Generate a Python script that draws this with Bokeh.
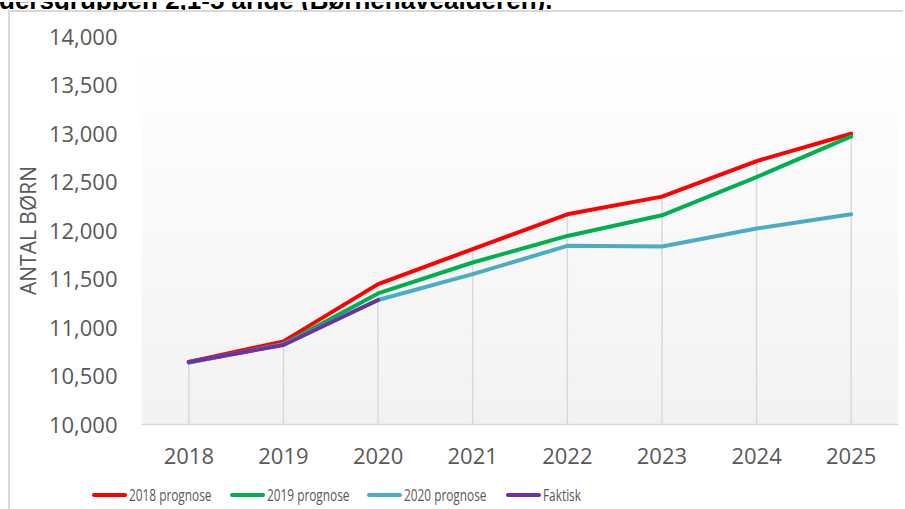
from bokeh.plotting import figure
from bokeh.layouts import column
from bokeh.models import (Range1d, FactorRange, FixedTicker, NumeralTickFormatter,
                          BoxAnnotation, Div)
from bokeh.embed import file_html
from bokeh.resources import INLINE

# ---- data ----
years = ["2018", "2019", "2020", "2021", "2022", "2023", "2024", "2025"]
prog2018 = [10645, 10857, 11447, 11808, 12167, 12349, 12716, 12997]
prog2019 = [10640, 10830, 11351, 11670, 11944, 12157, 12551, 12970]
prog2020 = [10640, 10825, 11283, 11550, 11842, 11835, 12020, 12167]
faktisk_years = ["2018", "2019", "2020"]
faktisk = [10645, 10820, 11283]
y_ticks = [10000, 10500, 11000, 11500, 12000, 12500, 13000, 13500, 14000]
series_names = ["2018 prognose", "2019 prognose", "2020 prognose", "Faktisk"]
title_text = "dersgruppen 2,1-5 årige (Børnehavealderen)."
y_label = "ANTAL BØRN"

colors = ["#FF0000", "#00B050", "#4BACC6", "#7030A0"]
GRAY = "#595959"
BORDER = "#D9D9D9"

# ---- cut-off title line (from the page above the chart) ----
title_div = Div(
    text=('<div style="position:relative;width:905px;height:10px;overflow:hidden;">'
          '<div style="position:absolute;left:-1px;top:-15px;white-space:nowrap;'
          "font-family:'Liberation Sans',Arial,sans-serif;font-weight:bold;"
          'font-size:26px;line-height:26px;color:#000;">' + title_text + '</div></div>'),
    width=905, height=10, margin=0)

# ---- main chart ----
p = figure(x_range=FactorRange(*years, range_padding=0),
           y_range=Range1d(y_ticks[0], y_ticks[-1]),
           width=893, height=470, output_backend="svg", toolbar_location=None,
           min_border_left=131, min_border_right=5, min_border_top=24,
           min_border_bottom=58, margin=0)
p.outline_line_color = None
p.background_fill_color = "white"
p.border_fill_color = "white"
p.xgrid.grid_line_color = None
p.ygrid.grid_line_color = None

# gradient background (white -> light gray)
n_bands = 40
y0, y1 = y_ticks[0], y_ticks[-1]
step = (y1 - y0) / n_bands
for i in range(n_bands):
    t = (i + 0.5) / n_bands  # 0 at bottom, 1 at top
    c = int(round(242 + (255 - 242) * t))
    col = "#%02x%02x%02x" % (c, c, c)
    p.add_layout(BoxAnnotation(bottom=y0 + i * step, top=y0 + (i + 1) * step + 0.5,
                               fill_color=col, fill_alpha=1, line_color=None,
                               level="underlay"))

# drop lines
tops = [max(a, b, c) for a, b, c in zip(prog2018, prog2019, prog2020)]
p.segment(x0=years, y0=[y0] * len(years), x1=years, y1=tops,
          line_color=BORDER, line_width=1.5)

for ys, xs, col in [(prog2018, years, colors[0]), (prog2019, years, colors[1]),
                    (prog2020, years, colors[2]), (faktisk, faktisk_years, colors[3])]:
    p.line(xs, ys, line_color=col, line_width=4, line_cap="round", line_join="round")

# axes
p.yaxis.ticker = FixedTicker(ticks=y_ticks)
p.yaxis.formatter = NumeralTickFormatter(format="0,0")
p.yaxis.axis_line_color = None
p.yaxis.major_tick_line_color = None
p.yaxis.minor_tick_line_color = None
p.yaxis.major_tick_out = 0
p.yaxis.minor_tick_out = 0
p.yaxis.major_label_standoff = 24
p.yaxis.major_label_text_font = "Open Sans"
p.yaxis.major_label_text_font_size = "22px"
p.yaxis.major_label_text_color = GRAY
p.yaxis.axis_label = y_label
p.yaxis.axis_label_text_font = "Open Sans"
p.yaxis.axis_label_text_font_size = "21px"
p.yaxis.axis_label_text_font_style = "normal"
p.yaxis.axis_label_text_color = GRAY
p.yaxis.axis_label_standoff = 4

p.xaxis.axis_line_color = BORDER
p.xaxis.axis_line_width = 1.5
p.xaxis.major_tick_line_color = None
p.xaxis.minor_tick_line_color = None
p.xaxis.major_tick_out = 0
p.xaxis.minor_tick_out = 0
p.xaxis.major_label_standoff = 23
p.xaxis.major_label_text_font = "Open Sans"
p.xaxis.major_label_text_font_size = "22px"
p.xaxis.major_label_text_color = GRAY

# ---- legend strip (HTML legend below the plot) ----
legend_lines_left = [82, 220, 357, 496]
items_html = ""
for name, col, lx in zip(series_names, colors, legend_lines_left):
    items_html += ('<div style="position:absolute;left:%dpx;top:11px;width:35px;height:4px;'
                   'border-radius:2px;background:%s;"></div>' % (lx, col))
    items_html += ('<div style="position:absolute;left:%dpx;top:2px;line-height:22px;'
                   "font-family:'Open Sans',sans-serif;font-size:16px;color:%s;"
                   'white-space:nowrap;transform:scaleX(0.74);transform-origin:0 50%%;">%s</div>'
                   % (lx + 37, GRAY, name))
legend_div = Div(text='<div style="position:relative;width:893px;height:27px;">' + items_html + '</div>',
                 width=893, height=27, margin=0)

chart = column(p, legend_div, margin=(0, 0, 0, 8), spacing=0,
               styles={"border-top": "2px solid " + BORDER,
                       "border-left": "2px solid " + BORDER})
layout = column(title_div, chart, margin=0, spacing=0)

open("out.html", "w").write(file_html(layout, INLINE))
